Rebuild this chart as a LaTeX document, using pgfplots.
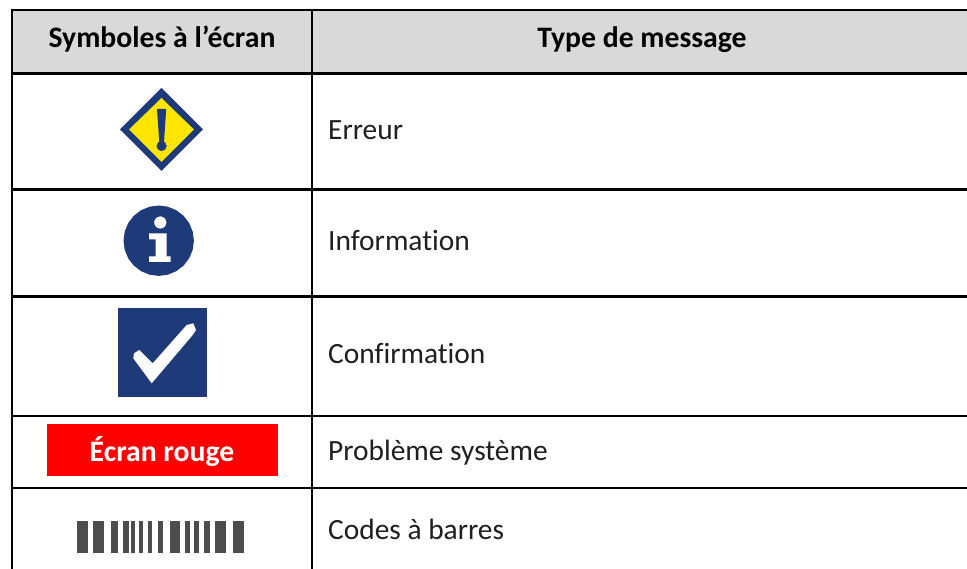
\documentclass[border=0pt]{standalone}
\usepackage{pgfplots}
\pgfplotsset{compat=1.18}
\usepackage{fontspec}
\setmainfont[Ligatures=NoCommon]{Carlito}
\definecolor{navy}{HTML}{1F3A78}
\definecolor{hdr}{HTML}{D9D9D9}
\definecolor{yel}{HTML}{FFE600}
\definecolor{bar}{HTML}{4D4D4D}
\newcommand{\bodyf}{\fontsize{29.4}{34}\selectfont}
\newcommand{\headf}{\fontsize{29.7}{34}\selectfont\bfseries}
\newcommand{\fillp}[2]{\addplot[draw=none,fill=#1,forget plot] coordinates {#2} -- cycle;}
\newcommand{\bcbar}[2]{\addplot[draw=none,fill=bar,forget plot] coordinates {(#1,521)(#2,521)(#2,553)(#1,553)} -- cycle;}
\begin{document}
\begin{tikzpicture}
\begin{axis}[
  at={(0,0)},anchor=south west,
  scale only axis,width=967pt,height=569pt,
  xmin=0,xmax=967,ymin=0,ymax=569,y dir=reverse,
  hide axis,clip=true]
% canvas and header
\fillp{white}{(0,0)(967,0)(967,569)(0,569)}
\fillp{hdr}{(12,10)(967,10)(967,73.5)(12,73.5)}
% table rules
\addplot[black,line width=2.2pt,forget plot] coordinates {(11,10)(967,10)};
\addplot[black,line width=2.2pt,forget plot] coordinates {(11,73.5)(967,73.5)};
\addplot[black,line width=2.2pt,forget plot] coordinates {(11,189.5)(967,189.5)};
\addplot[black,line width=2.2pt,forget plot] coordinates {(11,296.5)(967,296.5)};
\addplot[black,line width=2.2pt,forget plot] coordinates {(11,416)(967,416)};
\addplot[black,line width=2.2pt,forget plot] coordinates {(11,488)(967,488)};
\addplot[black,line width=2.2pt,forget plot] coordinates {(12,9)(12,569)};
\addplot[black,line width=2.2pt,forget plot] coordinates {(312,9)(312,569)};
% diamond icon
\fillp{navy}{(161.5,88)(203,129.5)(161.5,171)(120,129.5)}
\fillp{yel}{(161.5,98)(194,129.5)(161.5,162)(129,129.5)}
\fillp{navy}{(157,109)(166.2,109)(164,142)(159.3,142)}
\addplot[only marks,mark=*,mark size=4.8,color=navy,forget plot] coordinates {(161.6,146)};
% information icon
\fillp{navy}{(193.9,240.7)(192.7,249.8)(189.2,258.3)(183.6,265.6)(176.3,271.2)(167.8,274.7)(158.7,275.9)(149.6,274.7)(141.1,271.2)(133.8,265.6)(128.2,258.3)(124.7,249.8)(123.5,240.7)(124.7,231.6)(128.2,223.1)(133.8,215.8)(141.1,210.2)(149.6,206.7)(158.7,205.5)(167.8,206.7)(176.3,210.2)(183.6,215.8)(189.2,223.1)(192.7,231.6)}
\addplot[only marks,mark=*,mark size=5.8,color=white,forget plot] coordinates {(160.3,222.5)};
\fillp{white}{(149,233.5)(166.5,233.5)(166.5,256.5)(170.5,256.5)(170.5,262)(149,262)(149,256.5)(155.5,256.5)(155.5,239.5)(149,239.5)}
% confirmation icon
\fillp{navy}{(118.3,308)(207,308)(207,396.7)(118.3,396.7)}
\fillp{white}{(139.3,350)(152.7,363.3)(186.7,325)(193.3,323.3)(196,330)(192.7,335)(151.7,383.3)(133.3,358.3)(134,353.3)}
% red screen
\fillp{red}{(47,424)(277.7,424)(277.7,475.7)(47,475.7)}
% barcode
\bcbar{76.5}{87.5}
\bcbar{92.5}{104}
\bcbar{111}{117.5}
\bcbar{122.5}{128.5}
\bcbar{131}{134.5}
\bcbar{139}{143}
\bcbar{148}{152}
\bcbar{157.5}{162.5}
\bcbar{170}{180}
\bcbar{184.5}{190}
\bcbar{194}{198.5}
\bcbar{204}{210}
\bcbar{215}{225.5}
\bcbar{233}{243.5}
% text
\node[anchor=base,text=black] at (axis cs:162,48) {\headf Symboles à l’écran};
\node[anchor=base,text=black] at (axis cs:642,48) {\headf Type de message};
\node[anchor=base west,inner sep=0pt,text=black!88] at (axis cs:328,140) {\bodyf Erreur};
\node[anchor=base west,inner sep=0pt,text=black!88] at (axis cs:328,251) {\bodyf Information};
\node[anchor=base west,inner sep=0pt,text=black!88] at (axis cs:328,363) {\bodyf Confirmation};
\node[anchor=base west,inner sep=0pt,text=black!88] at (axis cs:328,460) {\bodyf Problème système};
\node[anchor=base west,inner sep=0pt,text=black!88] at (axis cs:328,539) {\bodyf Codes à barres};
\node[anchor=base,text=white] at (axis cs:162,461) {\headf Écran rouge};
\end{axis}
\end{tikzpicture}
\end{document}
